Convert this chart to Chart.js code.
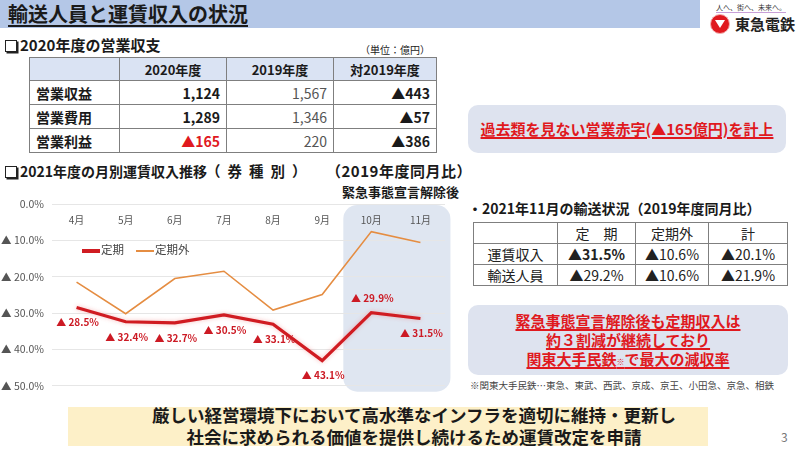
<!DOCTYPE html>
<html lang="ja">
<head>
<meta charset="utf-8">
<script src="https://cdn.jsdelivr.net/npm/chart.js@4.4.1/dist/chart.umd.min.js"></script>
<style>
  html, body { margin: 0; padding: 0; }
  body { width: 800px; height: 450px; position: relative; overflow: hidden; background: #fff;
         font-family: "Noto Sans CJK JP", "Noto Sans", sans-serif; color: #1a1a1a; }
  .abs { position: absolute; white-space: nowrap; }
  .box { display: inline-block; width: 10px; height: 10px; border: 1.5px solid #222; box-shadow: 1.5px 1.5px 0 #222;
         margin-right: 3px; vertical-align: -1px; }
  table { border-collapse: collapse; position: absolute; }
  td { border: 1px solid #7f7f7f; padding: 0 6px; }
  .t1 td { font-size: 14px; font-weight: bold; }
  .t1 .hd td { background: #dae3f3; text-align: center; font-size: 13px; }
  .t1 .r { text-align: right; }
  .t1 .g { color: #555; font-weight: normal; }
  .red { color: #e0191e; }
  .t2 td { font-size: 14px; text-align: center; color: #222; }
  .callout { position: absolute; background: #dee3ef; border-radius: 10px; text-align: center;
             color: #e0191e; font-weight: bold; }
  .callout span { text-decoration: underline; text-decoration-thickness: 1.5px; text-underline-offset: 2px; }
  #legend { position: absolute; left: 82px; top: 241px; font-size: 11.5px; color: #444; }
  #legend span.sw { display: inline-block; width: 18px; vertical-align: middle; margin-right: 1px; }
</style>
</head>
<body>

<!-- header -->
<div class="abs" style="left:0;top:0;width:700px;height:28px;background:#b4c7e7;"></div>
<div class="abs" style="left:8px;top:0;line-height:28px;font-size:20px;font-weight:bold;text-decoration:underline;text-underline-offset:3px;">輸送人員と運賃収入の状況</div>
<div class="abs" style="left:716px;top:2px;font-size:7px;color:#333;border-bottom:1.5px solid #c8a0d8;">人へ、街へ、未来へ。</div>
<div class="abs" style="left:710px;top:14px;width:18px;height:18px;border-radius:50%;background:#e0191e;border:1px solid #f3b0b0;"></div>
<div class="abs" style="left:715px;top:20px;width:0;height:0;border-left:5px solid transparent;border-right:5px solid transparent;border-top:8px solid #fff;"></div>
<div class="abs" style="left:735px;top:13px;font-size:15px;font-weight:bold;color:#222;">東急電鉄</div>

<!-- section 1 -->
<div class="abs" style="left:5px;top:34px;font-size:15px;font-weight:bold;"><span class="box"></span>2020年度の営業収支</div>
<div class="abs" style="left:360px;top:42px;font-size:10px;">（単位：億円）</div>

<table class="t1" style="left:29px;top:57px;width:408px;">
  <tr class="hd" style="height:23px;"><td style="width:77px;"></td><td style="width:94px;">2020年度</td><td style="width:94px;">2019年度</td><td>対2019年度</td></tr>
  <tr style="height:24px;"><td>営業収益</td><td class="r">1,124</td><td class="r g">1,567</td><td class="r">▲443</td></tr>
  <tr style="height:24px;"><td>営業費用</td><td class="r">1,289</td><td class="r g">1,346</td><td class="r">▲57</td></tr>
  <tr style="height:24px;"><td>営業利益</td><td class="r red">▲165</td><td class="r g">220</td><td class="r">▲386</td></tr>
</table>

<div class="callout" style="left:468px;top:105px;width:318px;height:48px;line-height:48px;font-size:15px;"><span>過去類を見ない営業赤字(▲165億円)を計上</span></div>

<!-- section 2 -->
<div class="abs" style="left:5px;top:161px;font-size:14px;font-weight:bold;"><span class="box"></span>2021年度の月別運賃収入推移</div>
<div class="abs" style="left:206px;top:160px;font-size:14.5px;font-weight:bold;letter-spacing:7px;">（券種別）</div>
<div class="abs" style="left:326px;top:160px;font-size:15px;font-weight:bold;letter-spacing:0.5px;">（2019年度同月比）</div>
<div class="abs" style="left:342px;top:182px;font-size:13px;font-weight:bold;">緊急事態宣言解除後</div>

<div style="position:absolute;left:0;top:185px;width:460px;height:215px;">
  <canvas id="lineChart"></canvas>
</div>
<div id="legend"></div>

<div class="abs" style="left:468px;top:198px;font-size:14px;font-weight:bold;">・2021年11月の輸送状況（2019年度同月比）</div>
<table class="t2" style="left:473px;top:222px;width:315px;">
  <tr style="height:21px;"><td style="width:71px;"></td><td style="width:65px;">定　期</td><td style="width:60px;">定期外</td><td>計</td></tr>
  <tr style="height:21px;"><td>運賃収入</td><td class="red" style="font-weight:bold;">▲31.5%</td><td>▲10.6%</td><td>▲20.1%</td></tr>
  <tr style="height:21px;"><td>輸送人員</td><td>▲29.2%</td><td>▲10.6%</td><td>▲21.9%</td></tr>
</table>

<div class="callout" style="left:468px;top:305px;width:320px;height:70px;font-size:15px;line-height:19px;padding-top:6px;box-sizing:border-box;">
  <span>緊急事態宣言解除後も定期収入は</span><br>
  <span>約３割減が継続しており</span><br>
  <span>関東大手民鉄<small style="font-size:8px;">※</small>で最大の減収率</span>
</div>
<div class="abs" style="left:470px;top:378px;font-size:9.5px;color:#444;">※関東大手民鉄…東急、東武、西武、京成、京王、小田急、京急、相鉄</div>

<!-- bottom -->
<div class="abs" style="left:68px;top:407px;width:640px;height:39px;background:#fdf0c8;"></div>
<div class="abs" style="left:68px;top:404px;width:692px;text-align:center;font-size:17.5px;font-weight:bold;line-height:22px;">厳しい経営環境下において高水準なインフラを適切に維持・更新し<br>社会に求められる価値を提供し続けるため運賃改定を申請</div>
<div class="abs" style="left:781px;top:428px;font-size:12px;color:#777;">3</div>

<script>
var months = ["4月", "5月", "6月", "7月", "8月", "9月", "10月", "11月"];
// 2019年度同月比の減少率（%）
var teiki = [28.5, 32.4, 32.7, 30.5, 33.1, 43.1, 29.9, 31.5];
var teikiGai = [21.5, 30.2, 20.5, 18.5, 29.2, 24.9, 7.6, 10.6];
var yTicks = [0, 10, 20, 30, 40, 50];

var redColor = "#d01c22";
var orangeColor = "#e58d42";
var labelFont = "\"Noto Sans CJK JP\", \"Noto Sans\", sans-serif";

// 緊急事態宣言解除後（10月・11月）の背景
var highlightPlugin = {
  id: "highlight",
  beforeDraw: function (chart) {
    var ctx = chart.ctx;
    var x = chart.scales.x;
    var y = chart.scales.y;
    var left = x.getPixelForValue(6) - 28;
    var right = x.getPixelForValue(7) + 30;
    var top = y.getPixelForValue(0) + 1;
    var bottom = y.getPixelForValue(50) + 6;
    ctx.save();
    ctx.fillStyle = "#dfe6f1";
    ctx.beginPath();
    ctx.roundRect(left, top, right - left, bottom - top, 14);
    ctx.fill();
    ctx.restore();
  }
};

// 定期の値ラベル
var valueLabelPlugin = {
  id: "valueLabels",
  afterDatasetsDraw: function (chart) {
    var ctx = chart.ctx;
    var meta = chart.getDatasetMeta(0);
    var data = chart.data.datasets[0].data;
    ctx.save();
    ctx.font = "bold 10px " + labelFont;
    ctx.fillStyle = "#cc1a24";
    ctx.textAlign = "center";
    ctx.textBaseline = "middle";
    meta.data.forEach(function (pt, i) {
      var dy = (i === 6) ? -14 : 15;
      ctx.fillText("▲ " + data[i].toFixed(1) + "%", pt.x + 1, pt.y + dy);
    });
    ctx.restore();
  }
};

// 定期の線にうっすら影
var glowPlugin = {
  id: "glow",
  beforeDatasetDraw: function (chart, args) {
    if (args.index === 0) {
      chart.ctx.save();
      chart.ctx.shadowColor = "rgba(240,110,110,0.45)";
      chart.ctx.shadowBlur = 4;
    }
  },
  afterDatasetDraw: function (chart, args) {
    if (args.index === 0) chart.ctx.restore();
  }
};

var lineChartData = {
  labels: months,
  datasets: [
    {
      label: "定期",
      data: teiki,
      borderColor: redColor,
      borderWidth: 3.2,
      pointRadius: 0,
      tension: 0,
      fill: false
    },
    {
      label: "定期外",
      data: teikiGai,
      borderColor: orangeColor,
      borderWidth: 1.6,
      pointRadius: 0,
      tension: 0,
      fill: false
    }
  ]
};

var lineChartOptions = {
  responsive: true,
  maintainAspectRatio: false,
  animation: false,
  layout: { padding: { top: 19, right: 15, bottom: 9, left: 0 } },
  plugins: {
    legend: { display: false },
    tooltip: { enabled: false }
  },
  scales: {
    x: {
      position: { y: 0 },
      offset: true,
      grid: { display: false, drawTicks: false },
      border: { display: false },
      ticks: {
        padding: 10,
        color: "#555",
        font: { family: labelFont, size: 10 }
      }
    },
    y: {
      reverse: true,
      min: 0,
      max: 50,
      afterBuildTicks: function (axis) {
        axis.ticks = yTicks.map(function (v) { return { value: v }; });
      },
      afterFit: function (axis) { axis.width = 52; },
      grid: { color: "#e6e6e6", lineWidth: 1, drawTicks: false },
      border: { display: false },
      ticks: {
        padding: 8,
        color: "#555",
        font: { family: labelFont, size: 10.5 },
        callback: function (v) {
          return v === 0 ? "0.0%" : "▲ " + v.toFixed(1) + "%";
        }
      }
    }
  }
};

var lineChart = new Chart(document.getElementById("lineChart").getContext("2d"), {
  type: "line",
  data: lineChartData,
  options: lineChartOptions,
  plugins: [highlightPlugin, glowPlugin, valueLabelPlugin]
});

// HTML legend (legendTemplate風)
var legendHtml = "";
lineChartData.datasets.forEach(function (ds, i) {
  legendHtml += "<span class=\"sw\" style=\"border-top:" + (i === 0 ? 4 : 2) + "px solid " + ds.borderColor + ";\"></span>" +
    "<span style=\"margin-right:" + (i === 0 ? 12 : 0) + "px;\">" + ds.label + "</span>";
});
document.getElementById("legend").innerHTML = legendHtml;
</script>
</body>
</html>
